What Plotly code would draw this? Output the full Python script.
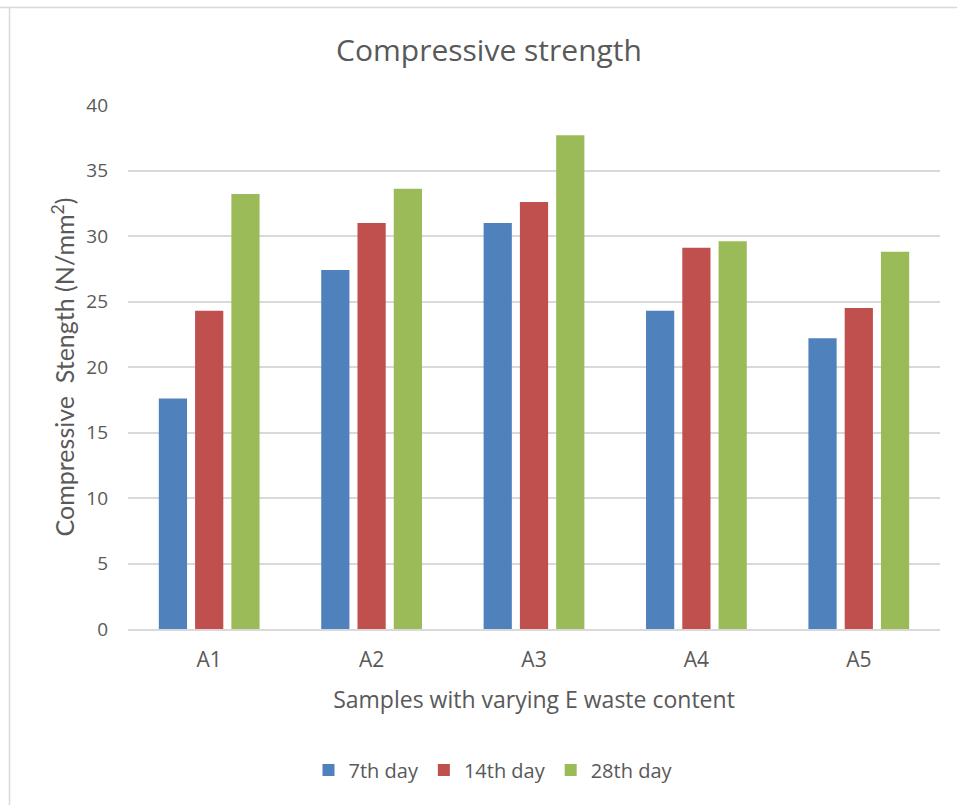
import plotly.graph_objects as go

# Sample labels and compressive strength results (N/mm²) at each curing age
samples = ["A1", "A2", "A3", "A4", "A5"]
day7 = [17.6, 27.4, 31.0, 24.3, 22.2]
day14 = [24.3, 31.0, 32.6, 29.1, 24.5]
day28 = [33.2, 33.6, 37.7, 29.6, 28.8]
y_ticks = [0, 5, 10, 15, 20, 25, 30, 35, 40]

series = [
    ("7th day", day7, "#4F81BD"),
    ("14th day", day14, "#C0504D"),
    ("28th day", day28, "#9BBB59"),
]

FONT = "'Open Sans', sans-serif"
YFONT = "Lato, sans-serif"
TXT = "#595959"

W, H = 957, 805
ML, MR, MT, MB = 128, 17, 105, 176

fig = go.Figure()
for name, vals, col in series:
    fig.add_trace(go.Bar(
        x=samples, y=vals, name=name,
        marker=dict(color=col, line=dict(width=0)),
    ))

pw = W - ML - MR
ph = H - MT - MB


def px_x(p):
    return (p - ML) / pw


def px_y(p):
    return (H - MB - p) / ph


# Light outer frame on the top and left edges of the chart area
fig.add_shape(type="line", xref="paper", yref="paper",
              x0=px_x(0), x1=px_x(W), y0=px_y(7.5), y1=px_y(7.5),
              line=dict(color="#D9D9D9", width=1.5))
fig.add_shape(type="line", xref="paper", yref="paper",
              x0=px_x(9.5), x1=px_x(9.5), y0=px_y(7.5), y1=px_y(H),
              line=dict(color="#D9D9D9", width=1.5))

fig.update_layout(
    width=W, height=H,
    margin=dict(l=ML, r=MR, t=MT, b=MB),
    paper_bgcolor="white", plot_bgcolor="white",
    barmode="group", bargap=0.33, bargroupgap=0.222,
    title=dict(text="Compressive strength", x=489 / W, xref="container",
               xanchor="center", y=1 - 50 / H, yanchor="middle",
               font=dict(family=FONT, size=30, color=TXT)),
    font=dict(family=FONT, color=TXT),
    xaxis=dict(
        showgrid=False, showline=True, linecolor="#D9D9D9", linewidth=2,
        ticks="", tickfont=dict(size=21, color=TXT), ticklabelstandoff=11,
        title=dict(text="Samples with varying E waste content",
                   font=dict(size=23, color=TXT), standoff=20),
    ),
    yaxis=dict(
        range=[0, 40], tickvals=y_ticks, showgrid=True,
        gridcolor="#D9D9D9", gridwidth=1.5, zeroline=False,
        showline=False, ticks="", tickfont=dict(size=19, color=TXT),
        ticklabelstandoff=19,
        title=dict(text="Compressive\u00a0 Stength (N/mm<sup>2</sup>)",
                   font=dict(family=YFONT, size=25, color=TXT), standoff=4),
    ),
    legend=dict(orientation="h", x=px_x(493), xanchor="center",
                y=px_y(770), yanchor="middle",
                font=dict(size=20, color=TXT), itemwidth=30,
                traceorder="normal"),
)

fig.write_html("out.html")
